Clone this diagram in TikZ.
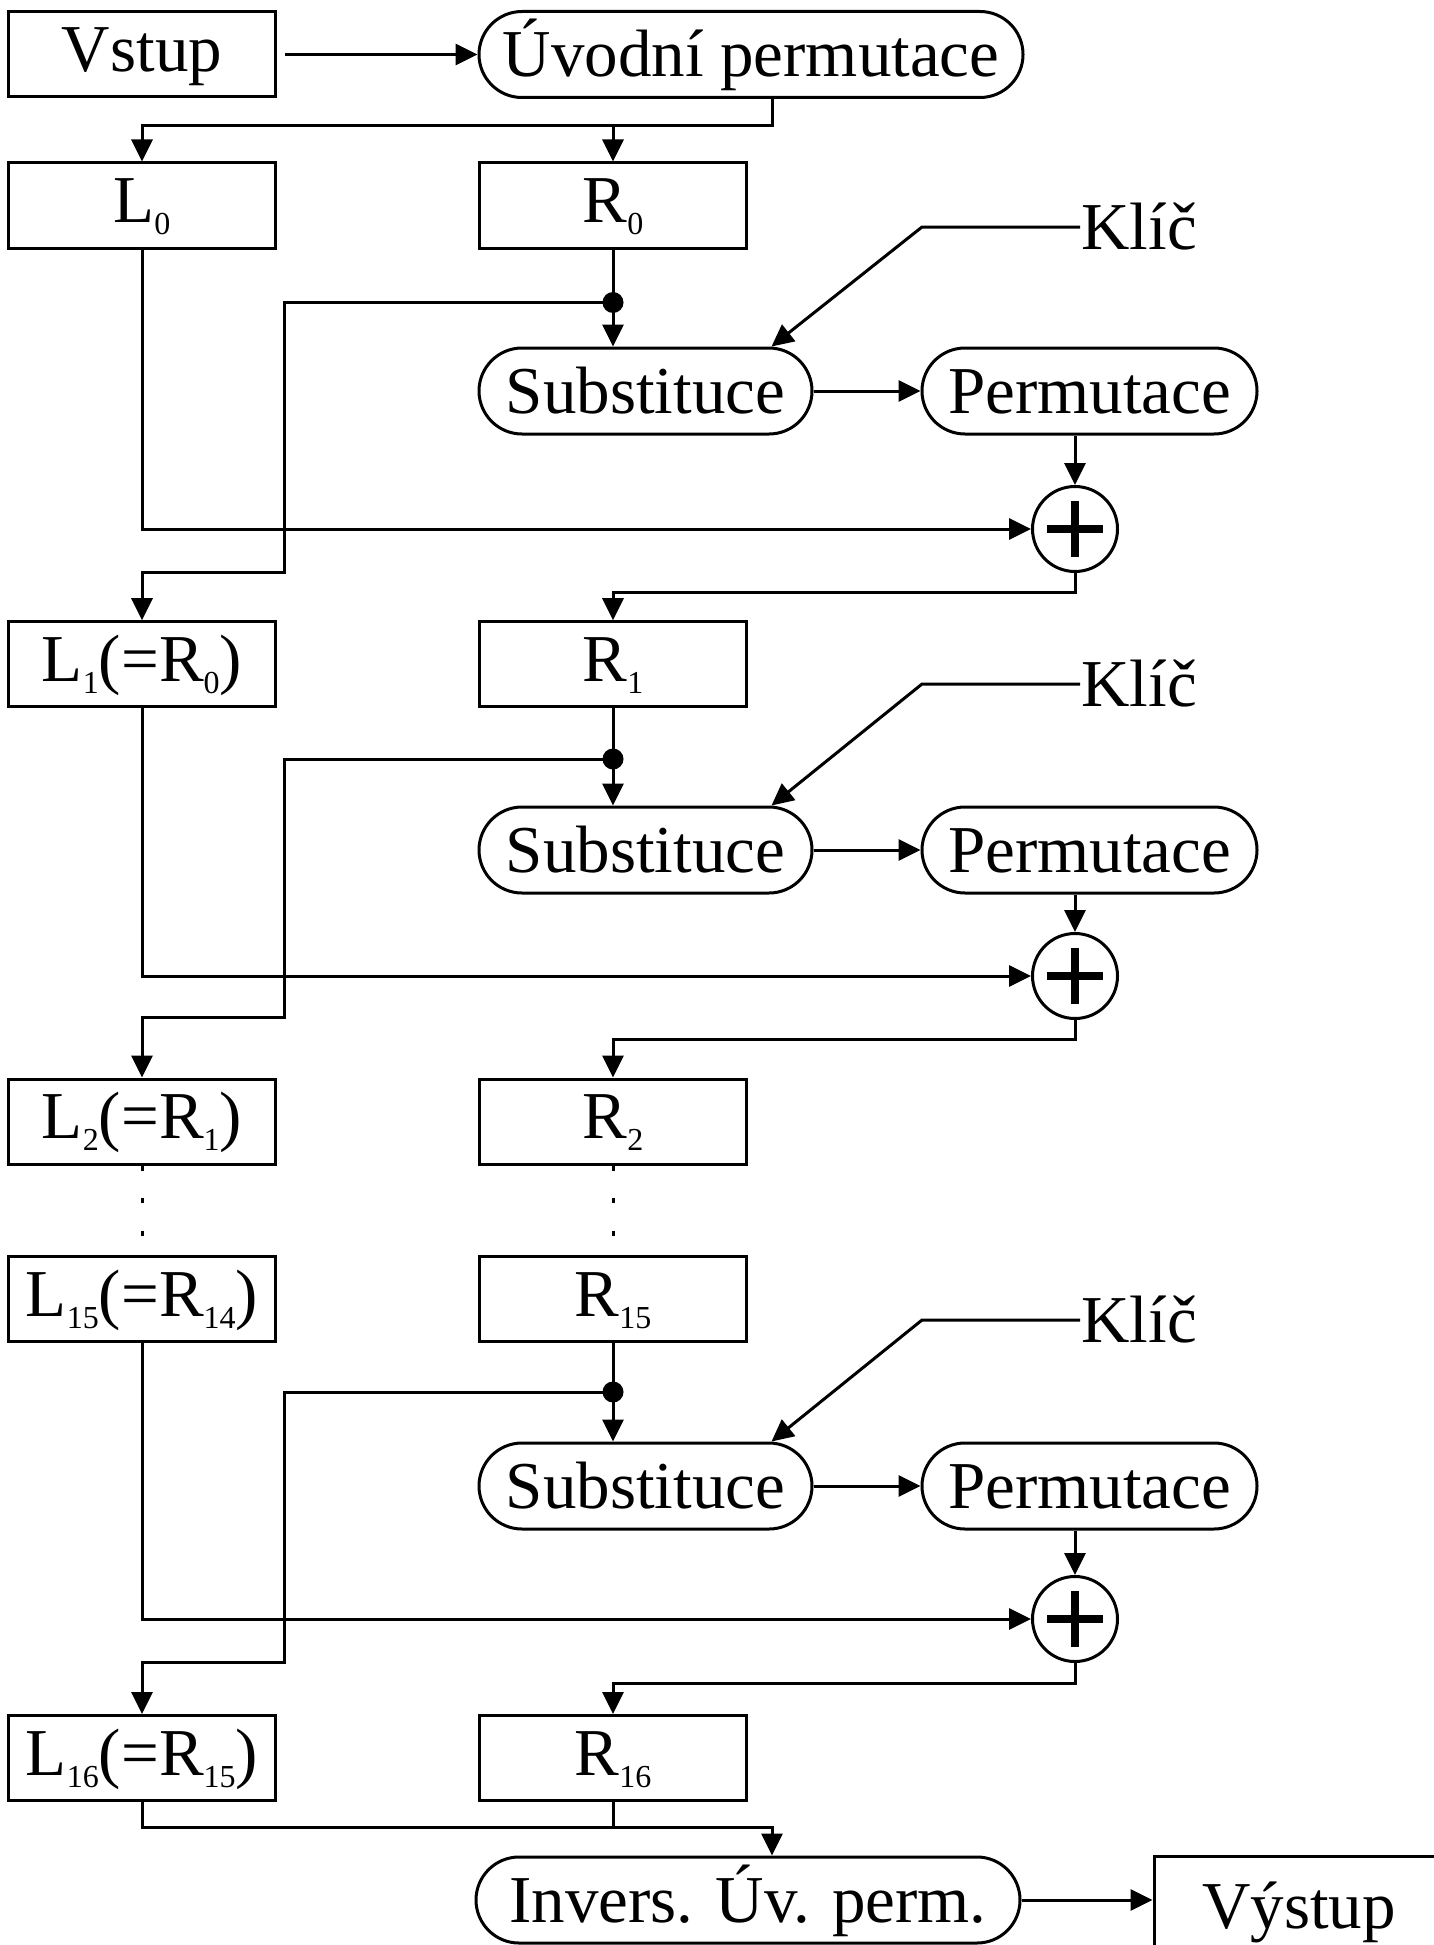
\documentclass[tikz,border=0pt]{standalone}
\usepackage{fontspec}
\setmainfont{Liberation Serif}
\usetikzlibrary{shapes.misc,arrows.meta}
% lowered small index after a letter
\newcommand\sbs[1]{\raisebox{-12pt}{\fontsize{32}{32}\selectfont #1}}
\begin{document}
\begin{tikzpicture}[x=1pt,y=-1pt,
  line width=3pt,
  every node/.style={font=\fontsize{67}{70}\selectfont, inner sep=0pt},
  box/.style={draw, rectangle, minimum width=267pt, minimum height=85pt,
              text height=44pt, text depth=10pt},
  stad/.style={draw, rounded rectangle, minimum height=86pt,
               text height=44pt, text depth=0pt},
  arr/.style={-{Triangle[length=22pt,width=21pt]}},
  jdot/.style={circle, fill, minimum size=21pt, inner sep=0pt},
  xorc/.style={circle, draw, minimum size=85pt},
  ]
\clip (0,0) rectangle (1434,1945);

% input and initial permutation
\node[box] (vin) at (142,54.5) {Vstup};
\node[stad, minimum width=544pt] (ip) at (751,54.5) {Úvodní permutace};

% left / right halves
\node[box] (L0)  at (142,205.5)  {L\sbs{0}};
\node[box] (R0)  at (613,205.5)  {R\sbs{0}};
\node[box] (L1)  at (142,664.2)  {L\sbs{1}(=R\sbs{0})};
\node[box] (R1)  at (613,664.2)  {R\sbs{1}};
\node[box] (L2)  at (142,1121.5) {L\sbs{2}(=R\sbs{1})};
\node[box] (R2)  at (613,1121.5) {R\sbs{2}};
\node[box] (L15) at (142,1299.2) {L\sbs{15}(=R\sbs{14})};
\node[box] (R15) at (613,1299.2) {R\sbs{15}};
\node[box] (L16) at (142,1758)   {L\sbs{16}(=R\sbs{15})};
\node[box] (R16) at (613,1758)   {R\sbs{16}};

% split after the initial permutation
\coordinate (sp) at (772,126);
\draw[arr] ([xshift=8pt]vin.east) -- (ip.west);
\draw[arr] (ip.south -| sp) -- (sp) -| (L0.north);
\draw[arr] (R0.north |- sp) -- (R0.north);

% Feistel rounds
\foreach \i/\La/\Ra/\Lb/\Rb/\sy/\xy/\ky/\dy/\cy/\oy in {
  1/L0/R0/L1/R1/391/529/227/302.5/572/592,
  2/L1/R1/L2/R2/850/976/684/759/1017/1039,
  3/L15/R15/L16/R16/1486/1619/1320/1392/1662/1683}{
  \node[stad, minimum width=333pt] (S\i) at (645.5,\sy) {Substituce};
  \node[stad, minimum width=335pt] (P\i) at (1089.5,\sy) {Permutace};
  \node[xorc] (X\i) at (1075,\xy) {};
  \node[anchor=west, text height=44pt, text depth=0pt] (K\i) at (1080,\ky) {Klíč};
  \coordinate (kb\i) at (922,\ky);
  \node[jdot] (D\i) at (613,\dy) {};
  \coordinate (t\i) at (284,\cy);
  \coordinate (o\i) at (1075,\oy);
  % plus sign of the XOR
  \draw[line width=8pt] ([xshift=-28pt]X\i.center) -- ([xshift=28pt]X\i.center);
  \draw[line width=8pt] ([yshift=-28pt]X\i.center) -- ([yshift=28pt]X\i.center);
  % connectors
  \draw (\Ra.south) -- (D\i.center);
  \draw[arr] (D\i.center) -- (D\i |- S\i.north);
  \draw[arr] (K\i.west) -- (kb\i) -- ([xshift=126pt]S\i.north);
  \draw[arr] (S\i.east) -- (P\i.west);
  \draw[arr] (P\i.south -| X\i.north) -- (X\i.north);
  \draw[arr] (\La.south) |- (X\i.west);
  \draw[arr] (D\i.center) -| (t\i) -| (\Lb.north);
  \draw[arr] (X\i.south) -- (o\i) -| (\Rb.north);
}

% omitted rounds
\draw[dash pattern=on 5pt off 27.5pt] (L2.south) -- (L15.north);
\draw[dash pattern=on 5pt off 27.5pt] (R2.south) -- (R15.north);

% final inverse permutation and output
\node[stad, minimum width=544pt] (inv) at (748,1900) {Invers. Úv. perm.};
\node[draw, minimum width=290pt, minimum height=100pt,
      text height=44pt, text depth=0pt] (out) at (1299,1906) {Výstup};
\coordinate (jj) at (772,1827);
\draw (R16.south) -- (R16.south |- jj);
\draw[arr] (L16.south) |- (jj) -- (jj |- inv.north);
\draw[arr] (inv.east) -- (inv.east -| out.west);
\end{tikzpicture}
\end{document}
